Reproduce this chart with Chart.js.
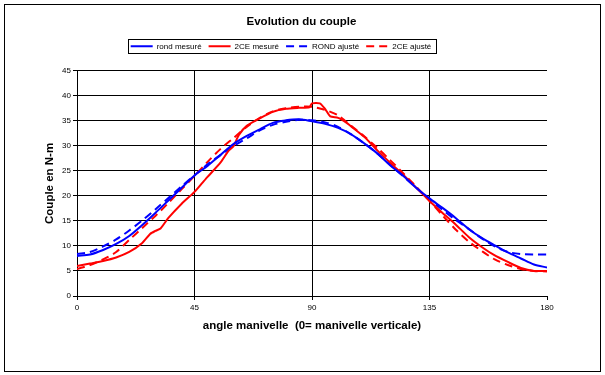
<!DOCTYPE html>
<html>
<head>
<meta charset="utf-8">
<script src="https://cdn.jsdelivr.net/npm/chart.js@4.4.1/dist/chart.umd.min.js"></script>
<style>
  body { margin: 0; background: #fff; }
  canvas { display: block; }
</style>
</head>
<body>
<canvas id="couple-chart" width="605" height="375"></canvas>
<script>
// angles (degrés) et couples (N-m)
const anglesStep = [0, 5, 10, 15, 20, 25, 30, 35, 40, 45, 50, 55, 60, 65, 70, 75, 80, 85, 90,
    95, 100, 105, 110, 115, 120, 125, 130, 135, 140, 145, 150, 155, 160, 165, 170, 175, 180];

const rondMesure = [8.0, 8.3, 9.2, 10.4, 12.0, 14.2, 16.6, 19.1, 21.6, 24.1, 26.0, 28.2, 30.4, 32.0, 33.3, 34.6, 35.1, 35.3, 34.9,
    34.4, 33.6, 32.3, 30.5, 28.5, 26.1, 24.0, 21.6, 19.5, 17.6, 15.6, 13.4, 11.6, 10.1, 8.7, 7.5, 6.3, 5.7];

const rondAjuste = [8.4, 8.8, 9.9, 11.3, 13.1, 15.1, 17.3, 19.6, 21.9, 24.1, 26.3, 28.2, 30.0, 31.5, 33.1, 34.2, 34.8, 35.2, 35.1,
    34.7, 33.8, 32.3, 30.5, 28.5, 26.2, 23.9, 21.6, 19.3, 17.2, 15.2, 13.4, 11.5, 9.9, 8.8, 8.4, 8.3, 8.3];

const ceAjuste = [5.4, 6.2, 7.3, 8.8, 11.2, 13.6, 16.0, 18.6, 21.3, 24.0, 26.8, 29.4, 31.6, 33.8, 35.6, 36.9, 37.5, 37.8, 37.8,
    37.2, 36.1, 34.0, 31.9, 29.6, 27.1, 24.5, 21.8, 19.0, 16.1, 13.3, 10.9, 9.0, 7.3, 6.2, 5.4, 5.0, 4.9];

const anglesCeMesure = [0, 5, 10, 15, 20, 25, 28, 30, 32, 35, 40, 45, 48, 50, 55, 58, 60, 62, 65, 70, 75, 80, 85, 89, 90,
    93, 95, 97, 100, 103, 105, 110, 115, 120, 125, 130, 135, 140, 145, 150, 155, 160, 165, 170, 175, 180];
const ceMesure = [6.0, 6.5, 7.0, 7.7, 8.8, 10.6, 12.4, 13.0, 13.5, 15.6, 18.4, 20.8, 22.6, 23.8, 26.7, 29.0, 30.0, 32.2, 34.0, 35.5, 36.8, 37.4, 37.6, 37.7, 38.5,
    38.5, 37.4, 35.9, 35.6, 34.7, 33.9, 31.8, 29.1, 26.6, 24.2, 21.6, 19.0, 16.6, 14.3, 11.8, 9.8, 8.1, 6.8, 5.6, 5.0, 5.0];

const yTicks = [0, 5, 10, 15, 20, 25, 30, 35, 40, 45];
const xTicks = [0, 45, 90, 135, 180];

const BLUE = '#0000ff';
const RED = '#ff0000';

function toPoints(xs, ys) {
    return xs.map((x, i) => ({ x: x, y: ys[i] }));
}

Chart.defaults.font.family = '"Liberation Sans", Arial, sans-serif';
Chart.defaults.color = '#000';

// cadre autour de la légende + cadre extérieur du graphique
const framePlugin = {
    id: 'frames',
    afterDraw(chart) {
        const ctx = chart.ctx;
        ctx.save();
        ctx.strokeStyle = '#000';
        ctx.lineWidth = 1;
        ctx.setLineDash([]);
        ctx.strokeRect(4.5, 4.5, 596, 367);

        const boxes = chart.legend.legendHitBoxes.slice(0, 4);
        const left = Math.min(...boxes.map(b => b.left)) - 3;
        const right = Math.max(...boxes.map(b => b.left + b.width)) + 4;
        const top = boxes[0].top - 3;
        const bottom = boxes[0].top + boxes[0].height + 3;
        ctx.strokeRect(Math.round(left) + 0.5, Math.round(top) + 0.5, Math.round(right - left), Math.round(bottom - top));
        ctx.restore();
    }
};

const ctx = document.getElementById('couple-chart').getContext('2d');
new Chart(ctx, {
    type: 'line',
    data: {
        datasets: [
            {
                label: 'rond mesuré',
                data: toPoints(anglesStep, rondMesure),
                borderColor: BLUE,
                borderWidth: 2,
                pointRadius: 0,
                tension: 0.3,
                yAxisID: 'y'
            },
            {
                label: '2CE mesuré',
                data: toPoints(anglesCeMesure, ceMesure),
                borderColor: RED,
                borderWidth: 2,
                pointRadius: 0,
                tension: 0.2,
                yAxisID: 'y'
            },
            {
                label: 'ROND ajusté',
                data: toPoints(anglesStep, rondAjuste),
                borderColor: BLUE,
                borderWidth: 2,
                borderDash: [8, 5],
                pointRadius: 0,
                tension: 0.3,
                yAxisID: 'y'
            },
            {
                label: '2CE ajusté',
                data: toPoints(anglesStep, ceAjuste),
                borderColor: RED,
                borderWidth: 2,
                borderDash: [8, 5],
                pointRadius: 0,
                tension: 0.3,
                yAxisID: 'y'
            }
        ]
    },
    options: {
        responsive: false,
        animation: false,
        events: [],
        layout: { padding: { left: 0, right: 2, top: 0, bottom: 34 } },
        plugins: {
            title: {
                display: true,
                text: 'Evolution du couple',
                font: { size: 11.5, weight: 'bold' },
                padding: { top: 14.7, bottom: 6.8 }
            },
            legend: {
                display: true,
                position: 'top',
                labels: {
                    font: { size: 8 },
                    usePointStyle: true,
                    pointStyleWidth: 22,
                    padding: 7,
                    // dernier élément vide : décale la légende vers la gauche comme dans Excel
                    generateLabels: chart => chart.data.datasets.map((ds, i) => ({
                        text: ds.label,
                        strokeStyle: ds.borderColor,
                        fillStyle: ds.borderColor,
                        lineWidth: 2,
                        lineDash: ds.borderDash || [],
                        pointStyle: 'line',
                        hidden: false,
                        fontColor: '#000',
                        datasetIndex: i
                    })).concat([{
                        text: '\u2003',
                        strokeStyle: 'rgba(0,0,0,0)',
                        fillStyle: 'rgba(0,0,0,0)',
                        lineWidth: 0,
                        pointStyle: 'line',
                        hidden: false,
                        fontColor: 'rgba(0,0,0,0)'
                    }])
                }
            },
            // espace vide sous la légende
            subtitle: {
                display: true,
                text: '',
                weight: 500,
                font: { size: 1 },
                padding: { top: 9.3, bottom: 0 }
            },
            tooltip: { enabled: false }
        },
        scales: {
            y: {
                type: 'linear',
                position: 'left',
                min: 0,
                max: 45,
                afterFit: scale => { scale.width = 77; },
                afterBuildTicks: scale => { scale.ticks = yTicks.map(v => ({ value: v })); },
                ticks: { font: { size: 8 }, padding: 2, color: '#000' },
                grid: { color: '#000', lineWidth: 1, tickLength: 4 },
                border: { display: true, color: '#000', width: 1 },
                title: {
                    display: true,
                    text: 'Couple en N-m',
                    font: { size: 11.5, weight: 'bold' },
                    padding: { top: 43.1, bottom: 0 }
                }
            },
            yRight: {
                type: 'linear',
                position: 'right',
                display: true,
                afterFit: scale => { scale.width = 56; },
                ticks: { display: false },
                grid: { display: false },
                border: { display: false }
            },
            x: {
                type: 'linear',
                min: 0,
                max: 180,
                afterFit: scale => { scale.height = 45; },
                afterBuildTicks: scale => { scale.ticks = xTicks.map(v => ({ value: v })); },
                ticks: { font: { size: 8 }, padding: 3, color: '#000' },
                grid: {
                    color: c => (c.tick && c.tick.value === 180) ? 'rgba(0,0,0,0)' : '#000',
                    tickColor: '#000',
                    lineWidth: 1,
                    tickLength: 4
                },
                border: { display: true, color: '#000', width: 1 },
                title: {
                    display: true,
                    text: 'angle manivelle  (0= manivelle verticale)',
                    font: { size: 11.5, weight: 'bold' },
                    padding: { top: 0, bottom: 8.4 }
                }
            }
        }
    },
    plugins: [framePlugin]
});
</script>
</body>
</html>
